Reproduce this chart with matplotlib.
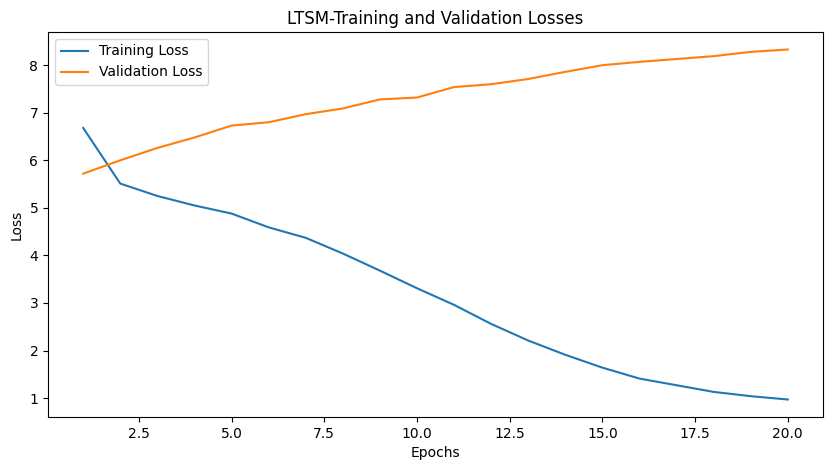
import matplotlib
matplotlib.use("Agg")
import matplotlib.pyplot as plt

epochs = list(range(1, 21))
train_loss = [6.68, 5.51, 5.25, 5.05, 4.88, 4.59, 4.37, 4.04, 3.68, 3.31,
              2.96, 2.56, 2.21, 1.91, 1.64, 1.41, 1.27, 1.13, 1.04, 0.97]
val_loss = [5.72, 6.00, 6.26, 6.48, 6.73, 6.80, 6.97, 7.09, 7.28, 7.32,
            7.54, 7.60, 7.71, 7.86, 8.00, 8.07, 8.13, 8.19, 8.28, 8.33]

fig = plt.figure(figsize=(8.33, 4.7), dpi=100)
ax = fig.add_axes([48 / 833, 53 / 470, 775 / 833, 385 / 470])

ax.plot(epochs, train_loss, label='Training Loss')
ax.plot(epochs, val_loss, label='Validation Loss')
ax.set_title('LTSM-Training and Validation Losses')
ax.set_xlabel('Epochs')
ax.set_ylabel('Loss')
ax.legend(loc='upper left')

fig.savefig('out.png', dpi=100)
